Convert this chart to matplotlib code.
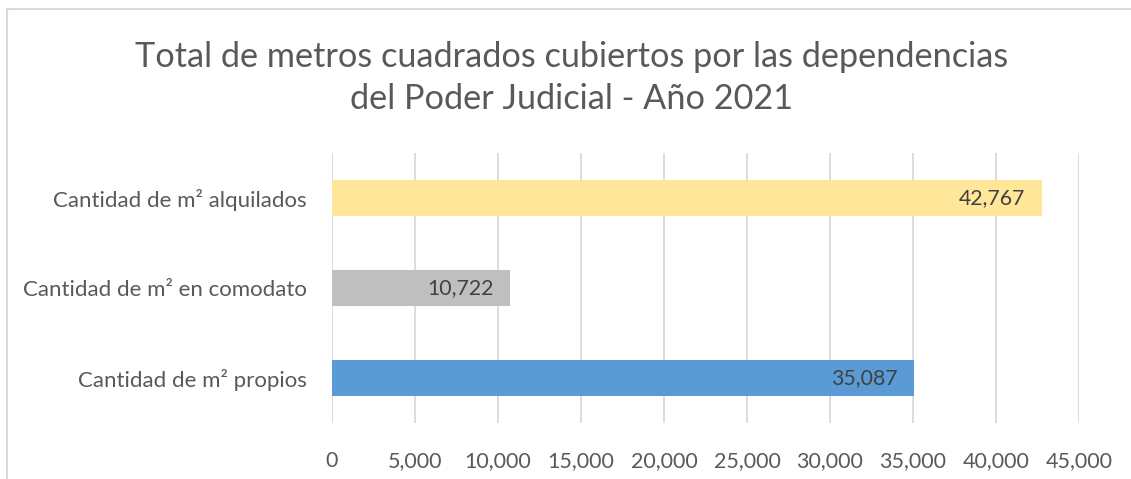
import matplotlib
matplotlib.use("Agg")
import matplotlib.pyplot as plt
from matplotlib.patches import Rectangle

categories = ["Cantidad de m² propios", "Cantidad de m² en comodato", "Cantidad de m² alquilados"]
values = [35087, 10722, 42767]
colors = ["#5B9BD5", "#BFBFBF", "#FFE699"]
xticks = [0, 5000, 10000, 15000, 20000, 25000, 30000, 35000, 40000, 45000]
title = "Total de metros cuadrados cubiertos por las dependencias\ndel Poder Judicial - Año 2021"

plt.rcParams['font.family'] = ['Lato', 'DejaVu Sans']

fig = plt.figure(figsize=(11.31, 4.79), dpi=100)
fig.patches.append(Rectangle((7/1131, -0.1), 1.2, 1 - 9/479 + 0.1, transform=fig.transFigure,
                             fill=False, edgecolor="#D9D9D9", linewidth=1.5))
ax = fig.add_axes([332/1131, 1 - 423/479, (1079 - 332)/1131, 270/479])

ypos = list(range(len(categories)))
bars = ax.barh(ypos, values, height=0.4, color=colors, zorder=3)
for y, v in zip(ypos, values):
    ax.annotate(f"{v:,}", xy=(v, y), xytext=(-12, 0), textcoords="offset points",
                ha="right", va="center", fontsize=15.3, color="#404040", zorder=4)

ax.set_xlim(0, 45000)
ax.set_ylim(-0.5, 2.5)
ax.set_xticks(xticks)
ax.set_xticklabels([f"{t:,}" for t in xticks])
ax.set_yticks(ypos)
ax.set_yticklabels(categories)
ax.tick_params(axis="x", length=0, pad=20, labelsize=15.5, labelcolor="#595959")
ax.tick_params(axis="y", length=0, pad=18, labelsize=16, labelcolor="#595959")
ax.grid(axis="x", color="#D9D9D9", linewidth=1.3, zorder=0)
ax.grid(axis="y", visible=False)
for s in ax.spines.values():
    s.set_visible(False)

fig.text(572/1131, 1 - 78/479, title, ha="center", va="center", fontsize=24.7,
         color="#595959", linespacing=1.35)

fig.savefig("out.png", dpi=100)
